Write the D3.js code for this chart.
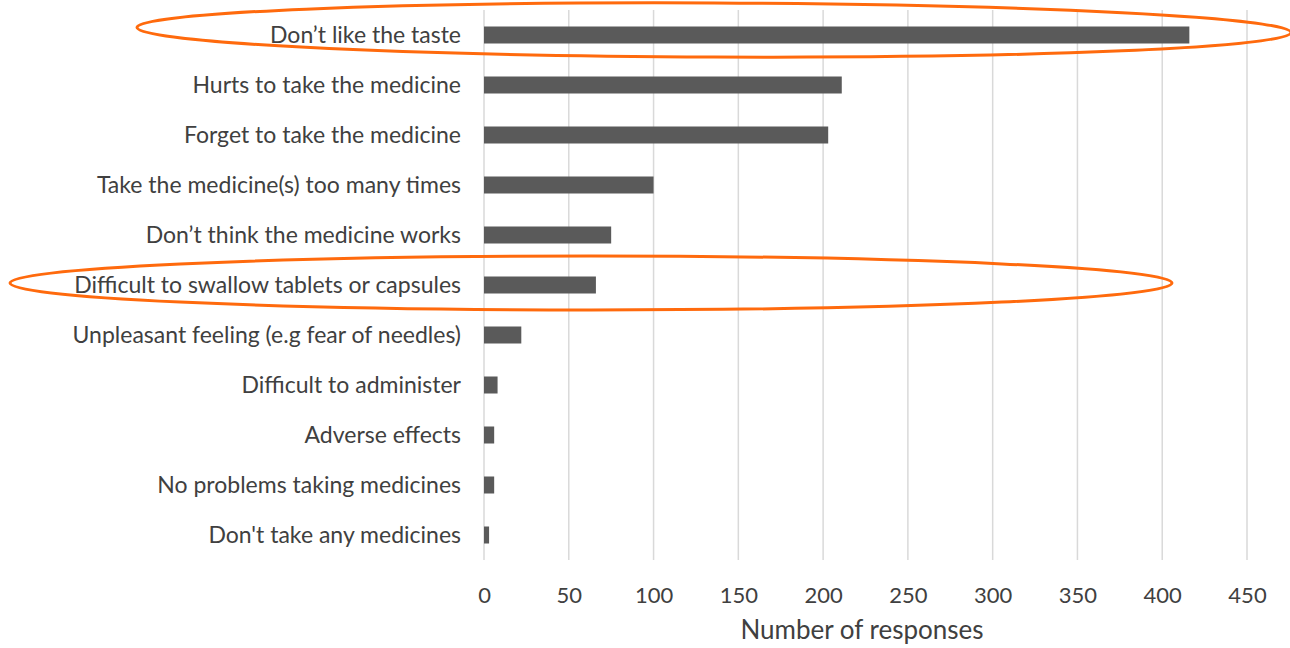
<!DOCTYPE html>
<html>
<head>
<meta charset="utf-8">
<script src="https://cdn.jsdelivr.net/npm/d3@7"></script>
<style>
  html, body { margin: 0; padding: 0; background: #ffffff; }
  svg { display: block; }
</style>
</head>
<body>
<svg id="chart" width="1290" height="648"></svg>
<script>
const categories = [
  "Don’t like the taste",
  "Hurts to take the medicine",
  "Forget to take the medicine",
  "Take the medicine(s) too many times",
  "Don’t think the medicine works",
  "Difficult to swallow tablets or capsules",
  "Unpleasant feeling (e.g fear of needles)",
  "Difficult to administer",
  "Adverse effects",
  "No problems taking medicines",
  "Don't take any medicines"
];
const responses = [416, 211, 203, 100, 75, 66, 22, 8, 6, 6, 3];
const tickValues = [0, 50, 100, 150, 200, 250, 300, 350, 400, 450];
const highlighted = ["Don’t like the taste", "Difficult to swallow tablets or capsules"];
const axisTitle = "Number of responses";

const svg = d3.select("#chart");
const font = "Lato, 'Open Sans', sans-serif";

const x = d3.scaleLinear().domain([0, 450]).range([484, 1247]);
const y = d3.scaleBand().domain(categories).range([10, 560])
  .paddingInner(0.66).paddingOuter(0.33);

// gridlines
svg.append("g").selectAll("line").data(tickValues).join("line")
  .attr("x1", d => x(d)).attr("x2", d => x(d))
  .attr("y1", 10).attr("y2", 560)
  .attr("stroke", "#d9d9d9").attr("stroke-width", 1.5);

// bars
svg.append("g").selectAll("rect").data(categories).join("rect")
  .attr("x", x(0))
  .attr("y", d => y(d))
  .attr("width", (d, i) => x(responses[i]) - x(0))
  .attr("height", y.bandwidth())
  .attr("fill", "#5a5a5a");

// category labels
svg.append("g").selectAll("text").data(categories).join("text")
  .attr("x", 461)
  .attr("y", d => y(d) + y.bandwidth() / 2)
  .attr("dy", "0.35em")
  .attr("text-anchor", "end")
  .attr("font-family", font)
  .attr("font-size", 23)
  .attr("fill", "#404040")
  .text(d => d);

// x axis tick labels
const xAxis = d3.axisBottom(x).tickValues(tickValues).tickSize(0).tickPadding(0);
const gx = svg.append("g").attr("transform", "translate(0,587)").call(xAxis);
gx.select(".domain").remove();
gx.selectAll("text")
  .attr("font-family", font)
  .attr("font-size", 22)
  .attr("fill", "#404040");

// axis title
svg.append("text")
  .attr("x", 862)
  .attr("y", 639)
  .attr("text-anchor", "middle")
  .attr("font-family", font)
  .attr("font-size", 26)
  .attr("fill", "#404040")
  .text(axisTitle);

// highlight ellipses
const ellipses = [
  { cat: highlighted[0], cx: 714, rx: 577, ry: 27, rot: 0.25, dy: -5 },
  { cat: highlighted[1], cx: 591, rx: 581, ry: 27, rot: 0, dy: -2 }
];
svg.append("g").selectAll("ellipse").data(ellipses).join("ellipse")
  .attr("cx", d => d.cx)
  .attr("cy", d => y(d.cat) + y.bandwidth() / 2 + d.dy)
  .attr("rx", d => d.rx)
  .attr("ry", d => d.ry)
  .attr("transform", d => `rotate(${d.rot},${d.cx},${y(d.cat) + y.bandwidth() / 2 + d.dy})`)
  .attr("fill", "none")
  .attr("stroke", "#ff6a0d")
  .attr("stroke-width", 3);
</script>
</body>
</html>
